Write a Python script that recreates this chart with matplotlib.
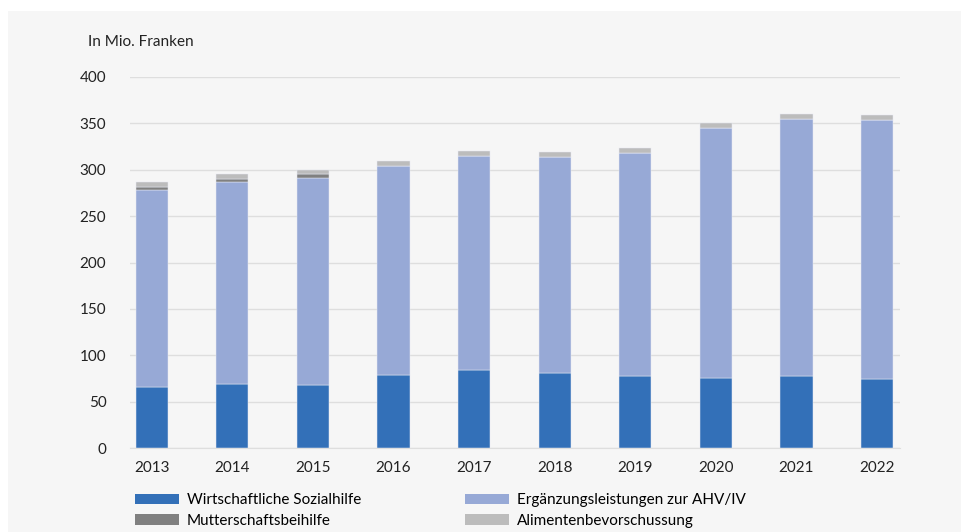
import numpy as np
import matplotlib
matplotlib.use('agg')
import matplotlib.pyplot as plt
from matplotlib.patches import Patch

plt.rc('font', family='Lato', size=11)

years = ['2013', '2014', '2015', '2016', '2017', '2018', '2019', '2020', '2021', '2022']
sozialhilfe = [66, 69, 68, 79, 84, 81, 78, 76, 78, 74]
ergaenzung = [212, 218, 223, 225, 231, 233, 240, 269, 277, 280]
mutterschaft = [3.5, 3.5, 4.3, 0, 0, 0, 0, 0, 0, 0]
alimente = [5, 5, 4.7, 5, 5, 5, 5, 5, 5, 5]

labels = ['Wirtschaftliche Sozialhilfe', 'Ergänzungsleistungen zur AHV/IV',
          'Mutterschaftsbeihilfe', 'Alimentenbevorschussung']
colors = ['#3370b8', '#97a9d6', '#808080', '#bcbcbc']
series = [sozialhilfe, ergaenzung, mutterschaft, alimente]

bg = '#f6f6f6'
fig = plt.figure(figsize=(9.62, 5.32), dpi=100, facecolor='white')
# grey panel behind the chart
fig.patches.append(plt.Rectangle((8/962, 0), 1, 1 - 11/532, transform=fig.transFigure,
                                 facecolor=bg, edgecolor='none', zorder=-10))
ax = fig.add_axes([130/962, 1-448/532, 770/962, 371/532])
ax.set_facecolor(bg)

x = np.arange(len(years))
bottom = np.zeros(len(years))
for vals, col, lab in zip(series, colors, labels):
    vals = np.array(vals, dtype=float)
    ax.bar(x, vals, width=0.4, bottom=bottom, color=col, edgecolor='#e6e9f2',
           linewidth=0.35, label=lab, zorder=3)
    bottom += vals

ax.set_ylim(0, 400)
ax.set_yticks(range(0, 401, 50))
ax.set_xlim(-0.27, 9.285)
ax.set_xticks(x)
ax.set_xticklabels(years)
ax.grid(axis='y', color='#dedede', linewidth=1, zorder=0)
for s in ['top', 'right', 'left']:
    ax.spines[s].set_visible(False)
ax.spines['bottom'].set_color('#dedede')
ax.tick_params(axis='y', length=0, pad=17, colors='#222222')
ax.tick_params(axis='x', length=0, pad=9, colors='#222222')

fig.text(88/962, 1-42/532, 'In Mio. Franken', ha='left', va='center', color='#222222')

order = [0, 2, 1, 3]
handles = [Patch(facecolor=colors[i], edgecolor='none') for i in order]
fig.legend(handles, [labels[i] for i in order], ncol=2, loc='upper left',
           bbox_to_anchor=(135/962, 1-493/532), frameon=False,
           handlelength=2.9, handleheight=0.65, handletextpad=0.5,
           columnspacing=6.8, labelspacing=0.45, borderaxespad=0, borderpad=0)

fig.savefig('out.png', dpi=100, facecolor='white')
